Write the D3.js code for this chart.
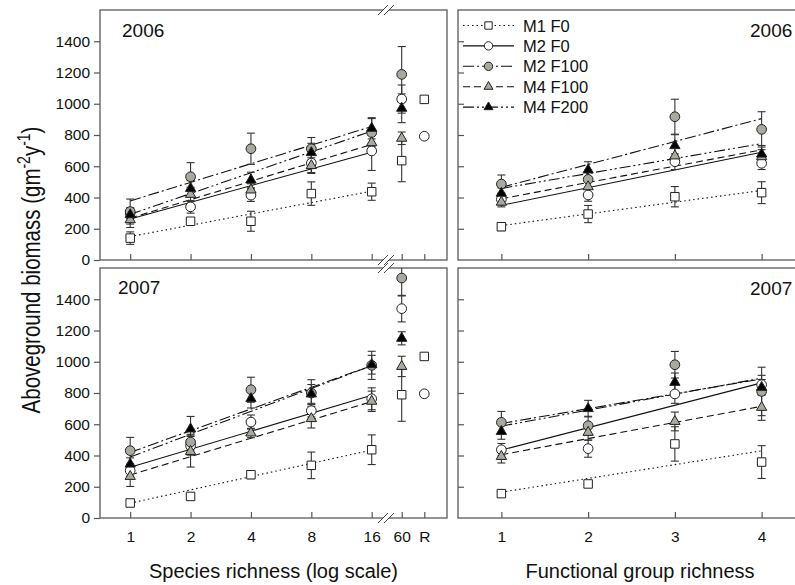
<!DOCTYPE html>
<html>
<head>
<meta charset="utf-8">
<script src="https://cdn.jsdelivr.net/npm/d3@7"></script>
<style>
body { margin: 0; background: #fff; }
svg { font-family: "Liberation Sans", Arial, sans-serif; }
.axis text { font-size: 15.5px; fill: #111; }
.axis line { stroke: #555; stroke-width: 1.2; }
.axis path { display: none; }
</style>
</head>
<body>
<div id="chart"></div>
<script>
var seriesNames = ['M1 F0', 'M2 F0', 'M2 F100', 'M4 F100', 'M4 F200'];
var speciesRichness = [1, 2, 4, 8, 16];
var extraLabels = ['60', 'R'];
var fgRichness = [1, 2, 3, 4];
var yTicks = [0, 200, 400, 600, 800, 1000, 1200, 1400];

// 2006, species richness (rows follow seriesNames)
var sr06Mean = [[140, 248, 248, 425, 437], [300, 340, 415, 620, 698], [310, 533, 712, 712, 815], [258, 420, 448, 604, 751], [290, 458, 512, 687, 843]];
var sr06Se = [[40, 15, 64, 75, 55], [35, 40, 40, 60, 125], [80, 90, 100, 72, 90], [50, 45, 40, 50, 50], [40, 50, 50, 60, 68]];
var sr06Fit = [[150, 440], [262, 690], [378, 854], [268, 740], [292, 825]];
var ex06Mean = [[636, 1028], [1030, 792], [1188, null], [779, null], [971, null]];
var ex06Se = [[135, 0], [90, 0], [178, 0], [40, 0], [92, 0]];

// 2007, species richness
var sr07Mean = [[96, 138, 277, 337, 437], [303, 462, 614, 687, 763], [431, 486, 821, 800, 977], [266, 426, 544, 636, 747], [345, 570, 764, 794, 981]];
var sr07Se = [[15, 15, 25, 85, 95], [35, 60, 45, 40, 70], [85, 50, 80, 85, 90], [64, 100, 30, 60, 65], [40, 80, 60, 60, 60]];
var sr07Fit = [[95, 435], [325, 785], [420, 975], [275, 745], [390, 975]];
var ex07Mean = [[789, 1034], [1340, 795], [1536, null], [970, null], [1150, null]];
var ex07Se = [[170, 0], [85, 0], [115, 0], [65, 0], [42, 0]];

// 2006, functional group richness
var fg06Mean = [[213, 294, 405, 431], [388, 416, 629, 619], [486, 516, 917, 836], [370, 469, 666, 661], [427, 576, 732, 678]];
var fg06Se = [[25, 55, 65, 70], [35, 40, 50, 40], [58, 60, 112, 113], [30, 50, 50, 45], [35, 53, 70, 55]];
var fg06Fit = [[220, 445], [350, 690], [465, 905], [392, 705], [458, 745]];

// 2007, functional group richness
var fg07Mean = [[156, 218, 474, 358], [437, 444, 794, 853], [612, 591, 981, 810], [394, 548, 618, 708], [554, 700, 868, 836]];
var fg07Se = [[15, 20, 110, 105], [40, 55, 60, 60], [70, 60, 85, 155], [42, 50, 60, 83], [50, 53, 60, 50]];
var fg07Fit = [[165, 430], [435, 865], [605, 890], [405, 715], [588, 895]];

var grey = '#aaa9a0';
var fills = ['#fff', '#fff', grey, grey, '#000'];
var symbols = [d3.symbolSquare, d3.symbolCircle, d3.symbolCircle, d3.symbolTriangle, d3.symbolTriangle];
var symSize = [72, 74, 74, 46, 46];
var dashes = ['1.5,3', null, '11,3,2,3', '7,4', '11,3,2,3,2,3'];

var svg = d3.select('#chart').append('svg')
  .attr('width', 795)
  .attr('height', 585);

var yTop = d3.scaleLinear().domain([0, 1600]).range([260, 10]);
var yBot = d3.scaleLinear().domain([0, 1600]).range([518, 268]);
var xSR = d3.scaleLog().base(2).domain([Math.SQRT1_2, 16]).range([100, 371.7]);
var xEx = d3.scalePoint().domain(extraLabels).range([401.7, 424.3]);
var xFG = d3.scaleLinear().domain([0.5, 4.5]).range([458, 805]);

var panels = [
  {kind: 'sr', y: yTop, mean: sr06Mean, se: sr06Se, fit: sr06Fit, exMean: ex06Mean, exSe: ex06Se, year: '2006', labelX: 122, labelY: 37, bottom: false},
  {kind: 'sr', y: yBot, mean: sr07Mean, se: sr07Se, fit: sr07Fit, exMean: ex07Mean, exSe: ex07Se, year: '2007', labelX: 118, labelY: 294, bottom: true},
  {kind: 'fg', y: yTop, mean: fg06Mean, se: fg06Se, fit: fg06Fit, year: '2006', labelX: 750, labelY: 37, bottom: false},
  {kind: 'fg', y: yBot, mean: fg07Mean, se: fg07Se, fit: fg07Fit, year: '2007', labelX: 750, labelY: 295, bottom: true}
];

function drawPanel(p) {
  var g = svg.append('g');
  var y = p.y;
  var x = p.kind == 'sr' ? xSR : xFG;
  var xs = p.kind == 'sr' ? speciesRichness : fgRichness;
  var x0 = p.kind == 'sr' ? 100 : 458;
  var x1 = p.kind == 'sr' ? 447 : 805;
  var yb = y(0), yt = y(1600);

  // y axis
  if (p.kind == 'sr') {
    g.append('g').attr('class', 'axis')
      .attr('transform', 'translate(' + x0 + ',0)')
      .call(d3.axisLeft(y).tickValues(yTicks).tickSize(6).tickPadding(4).tickFormat(d3.format('d')));
  } else {
    g.append('g').attr('class', 'axis')
      .attr('transform', 'translate(' + x0 + ',0)')
      .call(d3.axisRight(y).tickValues(yTicks.slice(1)).tickSize(6).tickFormat(''));
  }

  // x axis, ticks inside
  var xAxis = d3.axisBottom(x).tickValues(xs).tickSize(-6).tickPadding(13)
    .tickFormat(p.bottom ? d3.format('d') : '');
  g.append('g').attr('class', 'axis')
    .attr('transform', 'translate(0,' + yb + ')')
    .call(xAxis);
  if (p.kind == 'sr') {
    g.append('g').attr('class', 'axis')
      .attr('transform', 'translate(0,' + yb + ')')
      .call(d3.axisBottom(xEx).tickSize(-6).tickPadding(13).tickFormat(p.bottom ? null : ''));
  }

  // frame
  g.append('rect')
    .attr('x', x0).attr('y', yt)
    .attr('width', x1 - x0).attr('height', yb - yt)
    .attr('fill', 'none').attr('stroke', '#5a5a5a').attr('stroke-width', 1.3);

  // axis break marks
  if (p.kind == 'sr') {
    [yt, yb].forEach(function(yy) {
      var bx = 386;
      g.append('rect').attr('x', bx - 3).attr('y', yy - 2).attr('width', 6).attr('height', 4).attr('fill', '#fff');
      [-3, 3].forEach(function(off) {
        g.append('line')
          .attr('x1', bx + off - 5).attr('y1', yy + 5)
          .attr('x2', bx + off + 5).attr('y2', yy - 5)
          .attr('stroke', '#444').attr('stroke-width', 1);
      });
    });
  }

  // regression lines
  var line = d3.line()
    .x(function(d) { return x(d[0]); })
    .y(function(d) { return y(d[1]); });
  p.fit.forEach(function(f, i) {
    g.append('path')
      .datum([[xs[0], f[0]], [xs[xs.length - 1], f[1]]])
      .attr('d', line)
      .attr('fill', 'none')
      .attr('stroke', '#111')
      .attr('stroke-width', 1.1)
      .attr('stroke-dasharray', dashes[i]);
  });

  // collect points
  var pts = [];
  p.mean.forEach(function(row, i) {
    row.forEach(function(v, j) {
      pts.push({s: i, px: x(xs[j]), v: v, se: p.se[i][j]});
    });
    if (p.exMean) {
      p.exMean[i].forEach(function(v, j) {
        if (v != null) pts.push({s: i, px: xEx(extraLabels[j]), v: v, se: p.exSe[i][j]});
      });
    }
  });

  // error bars
  pts.forEach(function(d) {
    if (!d.se) return;
    var lo = Math.max(0, d.v - d.se), hi = Math.min(1600, d.v + d.se);
    g.append('line')
      .attr('x1', d.px).attr('x2', d.px)
      .attr('y1', y(lo)).attr('y2', y(hi))
      .attr('stroke', '#333').attr('stroke-width', 1.1);
    [lo, hi].forEach(function(e) {
      if (e <= 0 || e >= 1600) return;
      g.append('line')
        .attr('x1', d.px - 4).attr('x2', d.px + 4)
        .attr('y1', y(e)).attr('y2', y(e))
        .attr('stroke', '#333').attr('stroke-width', 1.1);
    });
  });

  // markers
  g.selectAll('.pt').data(pts).enter().append('path')
    .attr('class', 'pt')
    .attr('transform', function(d) { return 'translate(' + d.px + ',' + y(d.v) + ')'; })
    .attr('d', function(d) { return d3.symbol().type(symbols[d.s]).size(symSize[d.s])(); })
    .attr('fill', function(d) { return fills[d.s]; })
    .attr('stroke', '#222')
    .attr('stroke-width', 1);

  // year label
  g.append('text')
    .attr('x', p.labelX).attr('y', p.labelY)
    .attr('font-size', 19)
    .attr('fill', '#111')
    .text(p.year);
}

panels.forEach(drawPanel);

// legend (top right panel)
var legend = svg.append('g');
seriesNames.forEach(function(name, i) {
  var ly = 25.5 + i * 20.4;
  legend.append('line')
    .attr('x1', 463).attr('x2', 514)
    .attr('y1', ly).attr('y2', ly)
    .attr('stroke', '#111').attr('stroke-width', 1.1)
    .attr('stroke-dasharray', dashes[i]);
  legend.append('path')
    .attr('transform', 'translate(488.5,' + ly + ')')
    .attr('d', d3.symbol().type(symbols[i]).size(symSize[i] * 0.75)())
    .attr('fill', fills[i])
    .attr('stroke', '#222');
  legend.append('text')
    .attr('x', 523).attr('y', ly + 6)
    .attr('font-size', 16.5)
    .attr('fill', '#111')
    .text(name);
});

// axis titles
svg.append('text')
  .attr('x', 273.5).attr('y', 578)
  .attr('text-anchor', 'middle')
  .attr('font-size', 20)
  .attr('fill', '#111')
  .text('Species richness (log scale)');

svg.append('text')
  .attr('x', 640).attr('y', 578)
  .attr('text-anchor', 'middle')
  .attr('font-size', 20)
  .attr('fill', '#111')
  .text('Functional group richness');

var yTitle = svg.append('text')
  .attr('transform', 'translate(40,270) scale(1.3,1) rotate(-90)')
  .attr('text-anchor', 'middle')
  .attr('font-size', 20.5)
  .attr('fill', '#111');
yTitle.append('tspan').text('Aboveground biomass (gm');
yTitle.append('tspan').attr('dy', -8).attr('font-size', 14).text('-2');
yTitle.append('tspan').attr('dy', 8).text('y');
yTitle.append('tspan').attr('dy', -8).attr('font-size', 14).text('-1');
yTitle.append('tspan').attr('dy', 8).text(')');
</script>
</body>
</html>
